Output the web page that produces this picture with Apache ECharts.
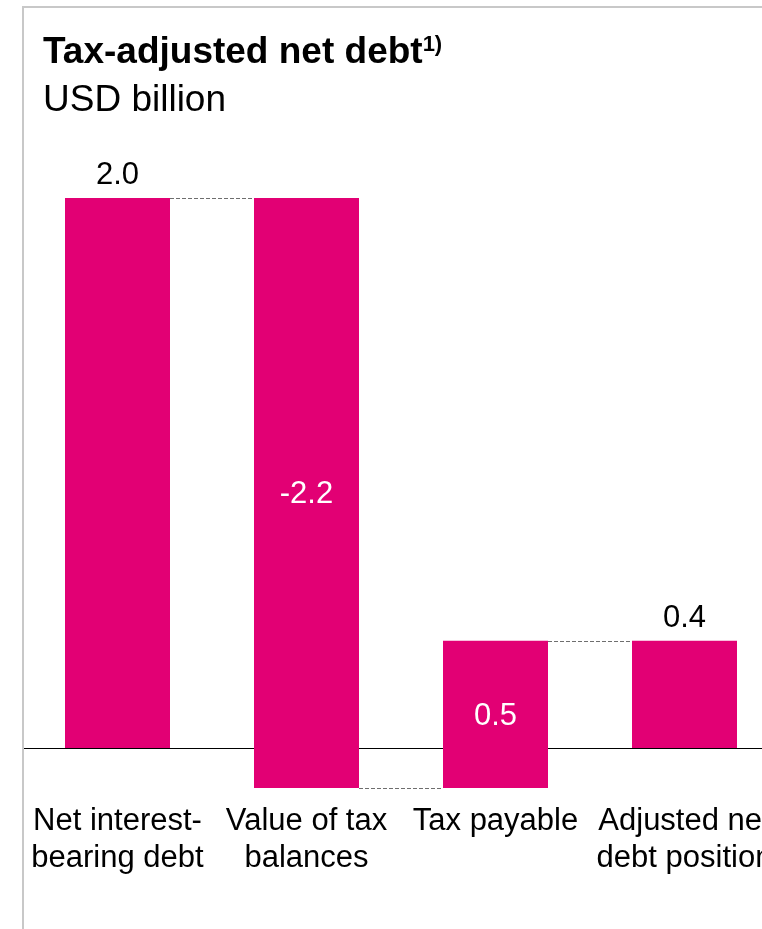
<!DOCTYPE html>
<html>
<head>
<meta charset="utf-8">
<script src="https://cdn.jsdelivr.net/npm/echarts@6/dist/echarts.min.js"></script>
<style>
html,body{margin:0;padding:0;overflow:hidden;background:#fff;width:762px;height:929px;}
#chart{width:780px;height:929px;}
</style>
</head>
<body>
<div id="chart"></div>
<script>
// ---- data ----
const categories = ['Net interest-\nbearing debt', 'Value of tax\nbalances', 'Tax payable', 'Adjusted net\ndebt position'];
const values = [2.0, -2.145, 0.535, 0.39];
const isTotal = [true, false, false, true];
const valueLabels = ['2.0', '-2.2', '0.5', '0.4'];

// ---- build waterfall ranges ----
const FONT = '"Liberation Sans", Arial, sans-serif';
const MAGENTA = '#E20074';
const wfData = [];
let cum = 0;
for (let i = 0; i < values.length; i++) {
  let start, end;
  if (isTotal[i]) { start = 0; end = values[i]; }
  else { start = cum; end = cum + values[i]; }
  cum = end;
  wfData.push([i, Math.min(start, end), Math.max(start, end), end, isTotal[i] ? 1 : 0]);
}

const chart = echarts.init(document.getElementById('chart'), null, {renderer: 'canvas'});

function renderItem(params, api) {
  const i = api.value(0);
  const low = api.value(1), high = api.value(2), level = api.value(3), total = api.value(4);
  const band = api.size([1, 0])[0];
  const bw = band * 105 / 189;
  const pTop = api.coord([i, high]);
  const pBot = api.coord([i, low]);
  const children = [];
  children.push({
    type: 'rect', z2: 2,
    shape: {x: pTop[0] - bw / 2, y: pTop[1], width: bw, height: pBot[1] - pTop[1]},
    style: {fill: MAGENTA}
  });
  if (total) {
    children.push({
      type: 'text', z2: 3,
      style: {text: valueLabels[params.dataIndex], x: pTop[0], y: pTop[1] - 7,
        textAlign: 'center', textVerticalAlign: 'bottom', fill: '#000', font: '31px ' + FONT}
    });
  } else {
    children.push({
      type: 'text', z2: 3,
      style: {text: valueLabels[params.dataIndex], x: pTop[0], y: (pTop[1] + pBot[1]) / 2 + 2,
        textAlign: 'center', textVerticalAlign: 'middle', fill: '#fff', font: '31px ' + FONT}
    });
  }
  if (i < categories.length - 1) {
    const a = api.coord([i, level]);
    const b = api.coord([i + 1, level]);
    const y = Math.round(a[1]) + 0.5;
    children.push({
      type: 'line', z2: 1,
      shape: {x1: a[0] + bw / 2, y1: y, x2: b[0] - bw / 2, y2: y},
      style: {stroke: '#6e6e6e', lineWidth: 1, lineDash: [4, 2]}
    });
  }
  if (i === 0) {
    const cs = params.coordSys;
    const y0 = Math.round(api.coord([0, 0])[1]) + 0.5;
    children.push({
      type: 'line', z2: 0,
      shape: {x1: cs.x, y1: y0, x2: cs.x + cs.width, y2: y0},
      style: {stroke: '#000', lineWidth: 1}
    });
  }
  return {type: 'group', children: children};
}

chart.setOption({
  animation: false,
  backgroundColor: '#fff',
  title: [
    {
      text: '{t|Tax-adjusted net debt}{s|1)}',
      left: 43, top: 34, padding: 0,
      textStyle: {
        rich: {
          t: {fontSize: 37, fontWeight: 'bold', lineHeight: 37, color: '#000', fontFamily: FONT},
          s: {fontSize: 22, fontWeight: 'bold', lineHeight: 26, verticalAlign: 'top', color: '#000', fontFamily: FONT}
        }
      }
    },
    {
      text: 'USD billion',
      left: 43, top: 82, padding: 0,
      textStyle: {fontSize: 37, fontWeight: 'normal', lineHeight: 37, color: '#000', fontFamily: FONT}
    }
  ],
  grid: {left: 23, width: 756, top: 33, bottom: 126, containLabel: false},
  xAxis: {
    type: 'category',
    data: categories,
    axisLine: {show: false},
    axisTick: {show: false},
    splitLine: {show: false},
    axisLabel: {interval: 0, margin: 0, fontSize: 31, lineHeight: 37, color: '#000', fontFamily: FONT}
  },
  yAxis: {
    type: 'value', min: -0.2, max: 2.6, show: false
  },
  graphic: [
    {type: 'line', z: 10, shape: {x1: 22, y1: 7, x2: 780, y2: 7}, style: {stroke: '#c8c8c8', lineWidth: 2}},
    {type: 'line', z: 10, shape: {x1: 23, y1: 6, x2: 23, y2: 929}, style: {stroke: '#c8c8c8', lineWidth: 2}}
  ],
  series: [{
    type: 'custom',
    renderItem: renderItem,
    data: wfData,
    encode: {x: 0, y: [1, 2]},
    clip: false
  }]
});
</script>
</body>
</html>
